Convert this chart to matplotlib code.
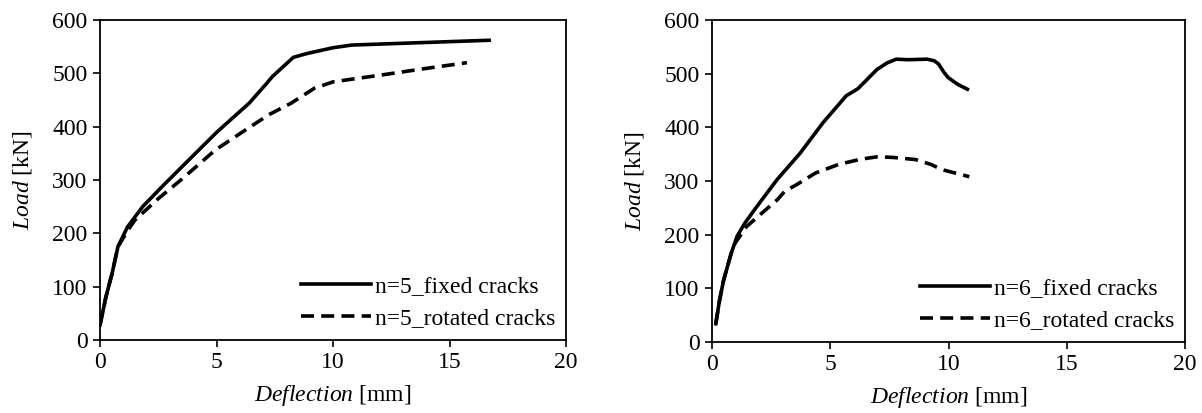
import matplotlib
matplotlib.use("Agg")
import matplotlib.pyplot as plt

plt.rcParams['font.family'] = ['Liberation Serif', 'DejaVu Serif']
plt.rcParams['mathtext.fontset'] = 'custom'
plt.rcParams['mathtext.rm'] = 'Liberation Serif'
plt.rcParams['mathtext.it'] = 'Liberation Serif:italic'

# Left panel (n=5)
x5_fixed = [0, 0.25, 0.52, 0.77, 1.18, 1.83, 2.65, 3.96, 5.02, 6.4, 7.15, 7.4, 8.0, 8.3, 8.87, 10.0, 10.8, 12.1, 16.7]
y5_fixed = [28, 80, 125, 175, 212, 250, 287, 344, 390, 444, 481, 494, 518, 530, 537, 548, 553, 555, 562]
x5_rot = [0, 0.25, 0.52, 0.77, 1.2, 1.5, 2.5, 3.47, 4.94, 6.25, 7.23, 8.2, 9.2, 10.0, 10.8, 12.1, 13.8, 15.75]
y5_rot = [28, 80, 125, 175, 206, 225, 265, 300, 356, 394, 422, 444, 472, 484, 489, 497, 508, 520]

# Right panel (n=6)
x6_fixed = [0.16, 0.32, 0.49, 0.81, 1.06, 1.38, 1.79, 2.11, 2.76, 3.73, 4.7, 5.68, 6.17, 6.98, 7.4, 7.79, 8.28, 9.09, 9.4, 9.58, 9.8, 9.98, 10.39, 10.8]
y6_fixed = [34, 78, 115, 165, 197, 221, 246, 265, 303, 352, 409, 459, 472, 508, 520, 527, 526, 527, 524, 518, 503, 493, 480, 471]
x6_rot = [0.16, 0.32, 0.49, 0.81, 0.97, 1.46, 1.95, 2.76, 3.08, 3.57, 4.38, 5.36, 6.33, 6.98, 7.63, 8.6, 9.25, 9.74, 10.88]
y6_rot = [34, 78, 115, 165, 184, 215, 234, 265, 281, 293, 315, 331, 341, 345, 344, 340, 331, 321, 308]

labels5 = ['n=5_fixed cracks', 'n=5_rotated cracks']
labels6 = ['n=6_fixed cracks', 'n=6_rotated cracks']
xticks = [0, 5, 10, 15, 20]
yticks = [0, 100, 200, 300, 400, 500, 600]

W, H = 1202, 413
fig = plt.figure(figsize=(W / 100, H / 100), dpi=100)
ax1 = fig.add_axes([100 / W, (H - 340) / H, 466 / W, 320 / H])
ax2 = fig.add_axes([712 / W, (H - 342) / H, 473 / W, 322 / H])

FS = 17
for ax, (xf, yf, xr, yr, labs) in zip(
        [ax1, ax2],
        [(x5_fixed, y5_fixed, x5_rot, y5_rot, labels5),
         (x6_fixed, y6_fixed, x6_rot, y6_rot, labels6)]):
    ax.plot(xr, yr, color='black', lw=2.6, ls=(0, (3.6, 2.0)), label=labs[1])
    ax.plot(xf, yf, color='black', lw=2.6, ls='-', label=labs[0])
    ax.set_xlim(0, 20)
    ax.set_ylim(0, 600)
    ax.set_xticks(xticks)
    ax.set_yticks(yticks)
    ax.tick_params(direction='out', length=5, width=1.2, labelsize=FS, pad=4)
    for s in ax.spines.values():
        s.set_linewidth(1.3)
        s.set_color('black')
    ax.set_xlabel(r'$\it{Deflection}$ [mm]', fontsize=FS, labelpad=7)
    ax.set_ylabel(r'$\it{Load}$ [kN]', fontsize=FS, labelpad=13)
    h, l = ax.get_legend_handles_labels()
    ax.legend([h[1], h[0]], [l[1], l[0]], loc='lower right', frameon=False,
              fontsize=FS, handlelength=3.0, handletextpad=0.15,
              labelspacing=0.45, borderaxespad=0.05)

fig.savefig('out.png', dpi=100)
